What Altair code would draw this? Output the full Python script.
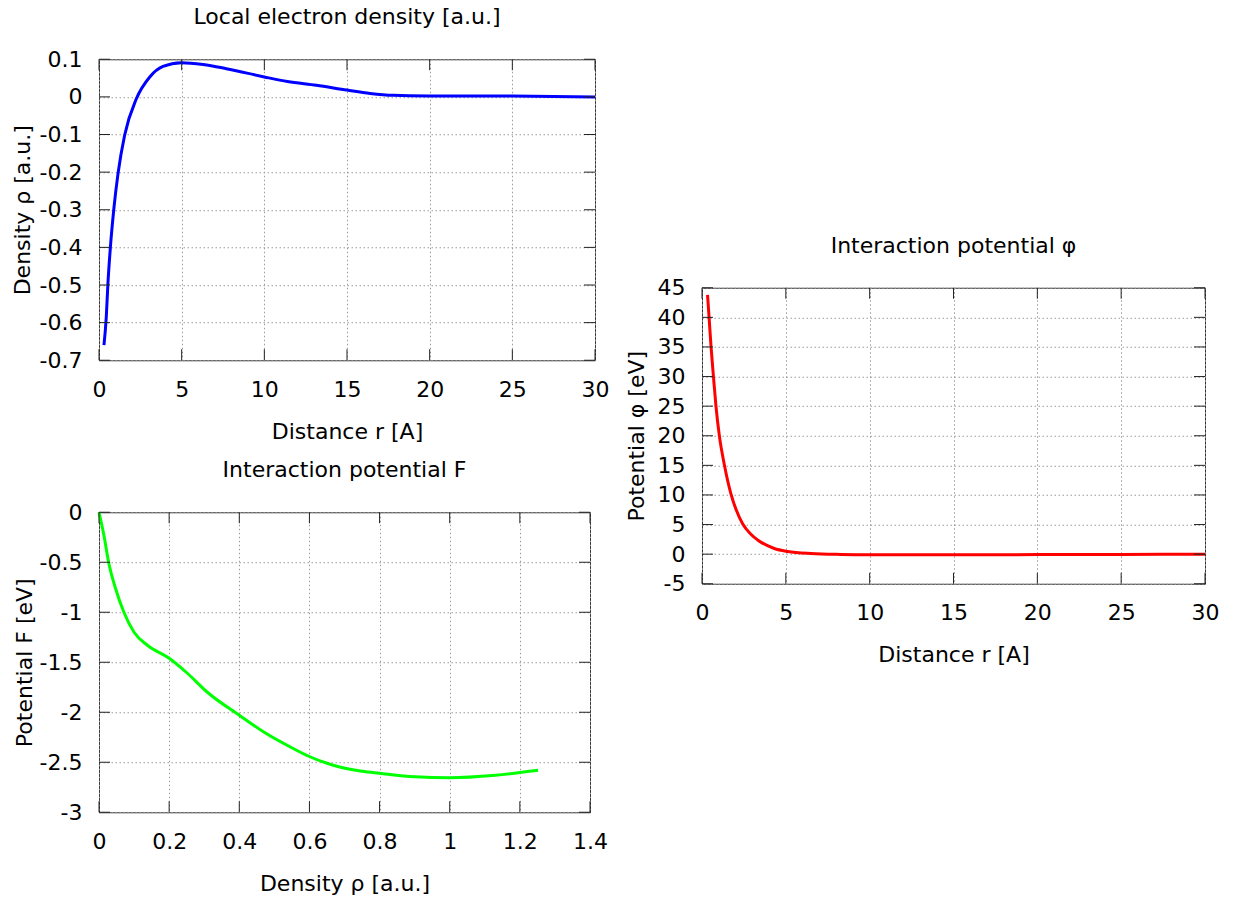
import altair as alt
import pandas as pd

FONT = "DejaVu Sans"
FS = 22

# ---- data: local electron density rho(r)
dens_r = [0.3, 0.44, 0.54, 0.69, 0.89, 1.15, 1.55, 2.26, 3.07, 3.87, 4.98, 6.3, 7.7, 10.0, 11.4, 13.15, 15.0, 16.4, 17.8, 20.0, 25.0, 30.0]
dens_v = [-0.66, -0.585, -0.496, -0.399, -0.301, -0.204, -0.102, -0.005, 0.053, 0.081, 0.091, 0.086, 0.075, 0.053, 0.041, 0.031, 0.018, 0.009, 0.004, 0.0025, 0.002, -0.0005]

# ---- data: embedding potential F(rho)
emb_rho = [0.0, 0.014, 0.028, 0.047, 0.071, 0.1, 0.138, 0.2, 0.252, 0.309, 0.4, 0.471, 0.547, 0.598, 0.65, 0.689, 0.75, 0.8, 0.9, 1.0, 1.13, 1.252]
emb_F = [0.0, -0.23, -0.51, -0.76, -1.0, -1.2, -1.33, -1.46, -1.61, -1.80, -2.03, -2.20, -2.35, -2.44, -2.51, -2.55, -2.59, -2.61, -2.645, -2.655, -2.63, -2.58]

# ---- data: pair potential phi(r)
pair_r = [0.33, 0.42, 0.54, 0.68, 0.83, 1.03, 1.33, 1.73, 2.05, 2.43, 2.9, 3.32, 4.31, 5.11, 6.5, 8.3, 10.0, 15.0, 20.0, 25.0, 30.0]
pair_phi = [43.8, 40.1, 35.0, 30.1, 25.1, 20.1, 15.15, 10.15, 7.4, 5.08, 3.4, 2.4, 0.96, 0.45, 0.1, -0.05, -0.1, -0.1, -0.08, -0.04, 0.0]

# ---- tick values
dist_ticks = [0, 5, 10, 15, 20, 25, 30]
dens_ticks = [-0.7, -0.6, -0.5, -0.4, -0.3, -0.2, -0.1, 0, 0.1]
rho_ticks = [0, 0.2, 0.4, 0.6, 0.8, 1, 1.2, 1.4]
F_ticks = [-3, -2.5, -2, -1.5, -1, -0.5, 0]
phi_ticks = [-5, 0, 5, 10, 15, 20, 25, 30, 35, 40, 45]

TICK = 11


def panel(xs, ys, xdom, ydom, xticks, yticks, xtitle, ytitle, title, color, w, h, ytp):
    df = pd.DataFrame({"x": xs, "y": ys})
    xs_scale = alt.Scale(domain=xdom, nice=False, zero=False)
    ys_scale = alt.Scale(domain=ydom, nice=False, zero=False)
    xaxis = alt.Axis(values=xticks, title=xtitle, labelExpr="toString(datum.value)",
                     titlePadding=21, labelPadding=19, labelFlush=False, labelOverlap=False)
    yaxis = alt.Axis(values=yticks, title=ytitle, labelExpr="toString(datum.value)",
                     titlePadding=ytp, labelPadding=17, labelFlush=False, labelOverlap=False)
    X = alt.X("x:Q", scale=xs_scale, axis=xaxis)
    Y = alt.Y("y:Q", scale=ys_scale, axis=yaxis)
    line = alt.Chart(df).mark_line(color=color, strokeWidth=3, interpolate="monotone").encode(x=X, y=Y)
    xt = pd.DataFrame({"x": xticks})
    yt = pd.DataFrame({"y": yticks})
    tick_style = dict(color="#222222", strokeWidth=1)
    bot = alt.Chart(xt).mark_rule(**tick_style).encode(x=X, y=alt.value(h), y2=alt.value(h - TICK))
    top = alt.Chart(xt).mark_rule(**tick_style).encode(x=X, y=alt.value(0), y2=alt.value(TICK))
    left = alt.Chart(yt).mark_rule(**tick_style).encode(y=Y, x=alt.value(0), x2=alt.value(TICK))
    right = alt.Chart(yt).mark_rule(**tick_style).encode(y=Y, x=alt.value(w), x2=alt.value(w - TICK))
    return alt.layer(line, bot, top, left, right).properties(
        width=w, height=h,
        view=alt.ViewBackground(stroke="#333333", strokeWidth=1),
        title=alt.TitleParams(title, anchor="middle", frame="group", offset=19,
                              font=FONT, fontSize=FS, fontWeight="normal", color="black"),
    )


p_dens = panel(dens_r, dens_v, [0, 30], [-0.7, 0.1], dist_ticks, dens_ticks,
               "Distance r [A]", "Density ρ [a.u.]", "Local electron density [a.u.]",
               "#0000ff", 496, 301, 5)
p_emb = panel(emb_rho, emb_F, [0, 1.4], [-3, 0], rho_ticks, F_ticks,
              "Density ρ [a.u.]", "Potential F [eV]", "Interaction potential F",
              "#00ff00", 491, 300, 3)
p_pair = panel(pair_r, pair_phi, [0, 30], [-5, 45], dist_ticks, phi_ticks,
               "Distance r [A]", "Potential φ [eV]", "Interaction potential φ",
               "#ff0000", 503, 296, 9)

chart = alt.hconcat(
    alt.vconcat(p_dens, p_emb, spacing=15),
    p_pair,
    spacing=14,
    center=True,
).properties(
    padding={"left": 10, "top": 5, "right": 5, "bottom": 5},
    background="white",
).configure_view(
    stroke="#333333", strokeWidth=1
).configure_axis(
    labelFont=FONT, labelFontSize=FS, labelColor="black",
    titleFont=FONT, titleFontSize=FS, titleFontWeight="normal", titleColor="black",
    ticks=False, tickSize=0, domain=False,
    grid=True, gridColor="#9a9a9a", gridDash=[1.5, 2.5], gridWidth=1,
)

chart.save("out.html", embed_options={"renderer": "svg", "actions": False})
